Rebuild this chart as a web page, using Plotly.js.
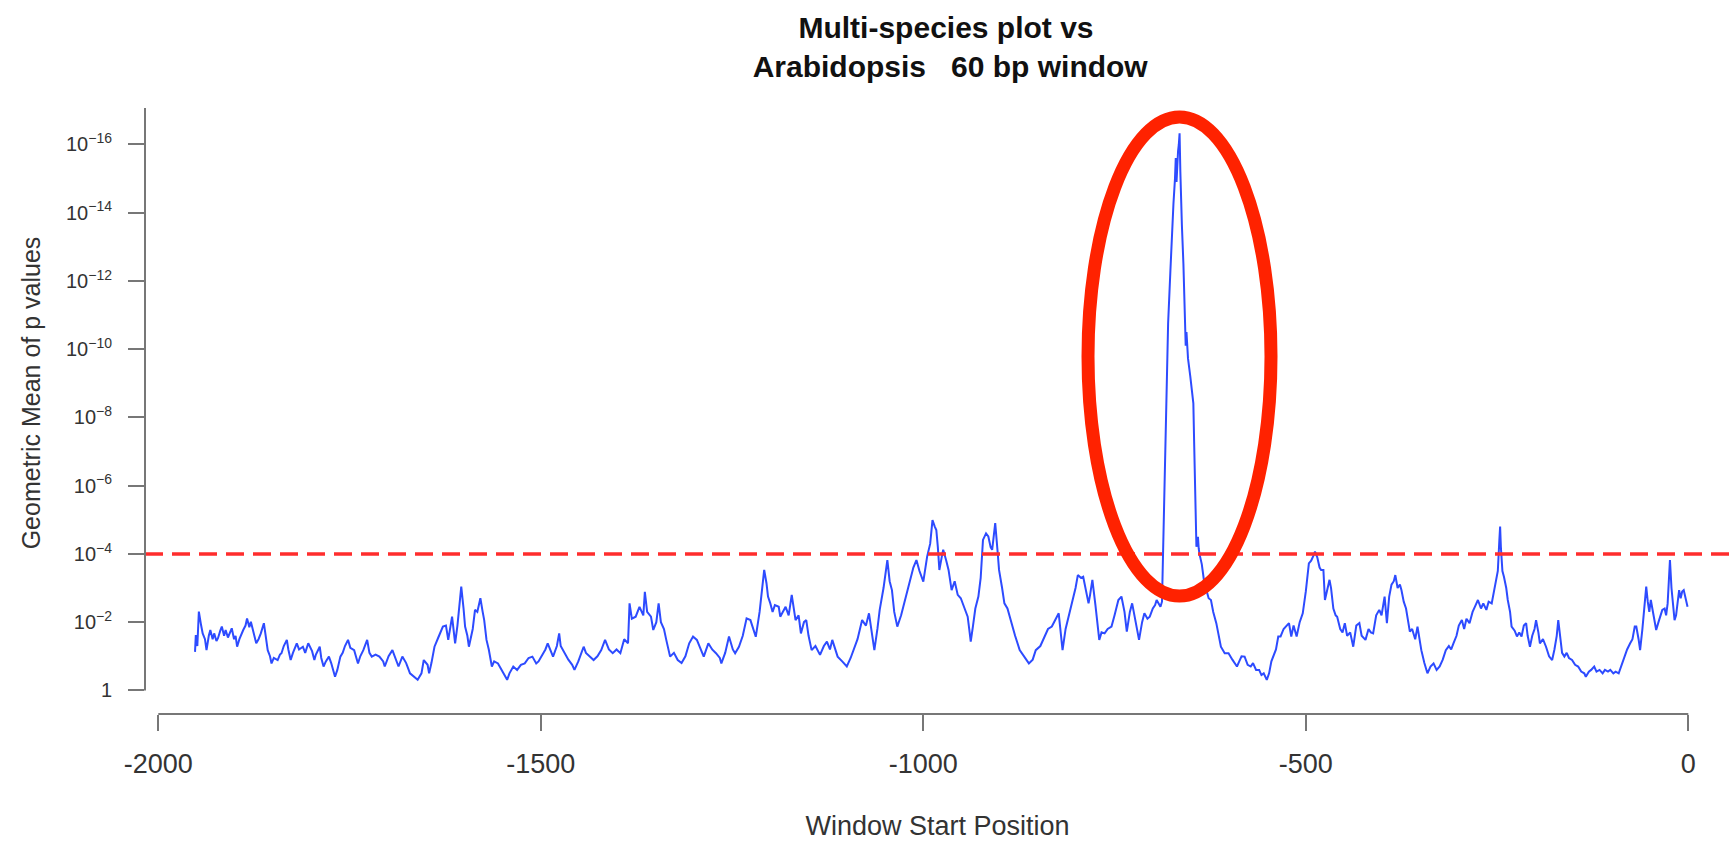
<!DOCTYPE html>
<html>
<head>
<meta charset="utf-8">
<script src="https://cdn.plot.ly/plotly-3.0.1.min.js"></script>
<style>
  html, body { margin: 0; padding: 0; background: #ffffff; }
  #chart { width: 1730px; height: 841px; }
</style>
</head>
<body>
<div id="chart"></div>
<script>
// ---------------- data ----------------
// Window start positions (bp) and -log10(geometric mean p value)
const windowStart = [
-1952,-1951,-1949,-1947,-1944,-1942,-1939,-1937,-1934,-1932,-1929,-1927,-1924,-1922,-1919,-1917,-1914,-1912,-1909,-1904,
-1901,-1899,-1897,-1894,-1889,-1886,-1884,-1881,-1879,-1876,-1874,-1872,-1869,-1866,-1862,-1859,-1857,-1854,-1852,-1849,
-1844,-1841,-1839,-1836,-1832,-1830,-1827,-1824,-1819,-1816,-1811,-1808,-1804,-1799,-1796,-1794,-1789,-1787,-1784,-1781,
-1777,-1774,-1769,-1766,-1762,-1759,-1756,-1752,-1749,-1744,-1739,-1736,-1732,-1727,-1724,-1721,-1716,-1711,-1706,-1704,
-1699,-1694,-1689,-1686,-1681,-1676,-1671,-1666,-1661,-1656,-1653,-1648,-1646,-1643,-1639,-1634,-1628,-1624,-1621,-1616,
-1612,-1609,-1604,-1601,-1599,-1596,-1594,-1589,-1586,-1583,-1579,-1576,-1574,-1571,-1568,-1564,-1561,-1556,-1551,-1548,
-1544,-1541,-1536,-1531,-1526,-1521,-1516,-1511,-1506,-1503,-1499,-1494,-1491,-1486,-1484,-1479,-1476,-1474,-1471,-1466,
-1464,-1459,-1456,-1451,-1449,-1444,-1441,-1436,-1431,-1426,-1421,-1416,-1411,-1406,-1401,-1396,-1391,-1386,-1384,-1381,
-1376,-1371,-1366,-1364,-1361,-1356,-1353,-1349,-1346,-1343,-1339,-1336,-1331,-1326,-1321,-1316,-1311,-1306,-1301,-1296,
-1291,-1287,-1281,-1276,-1271,-1266,-1264,-1259,-1254,-1249,-1246,-1241,-1236,-1231,-1226,-1223,-1219,-1214,-1211,-1208,
-1205,-1203,-1200,-1197,-1194,-1189,-1187,-1184,-1180,-1176,-1172,-1167,-1163,-1160,-1156,-1153,-1150,-1146,-1141,-1135,
-1130,-1126,-1122,-1119,-1115,-1112,-1106,-1100,-1095,-1091,-1086,-1080,-1075,-1071,-1067,-1064,-1060,-1057,-1052,-1047,
-1044,-1041,-1038,-1034,-1029,-1025,-1020,-1016,-1013,-1009,-1005,-1000,-997,-995,-991,-988,-985,-983,-981,-979,
-976,-974,-970,-967,-963,-959,-955,-951,-946,-942,-940,-938,-935,-932,-928,-925,-922,-918,-915,-912,
-910,-906,-903,-901,-897,-894,-890,-887,-883,-880,-874,-868,-862,-857,-853,-847,-841,-837,-832,-827,
-823,-818,-814,-809,-805,-801,-798,-794,-791,-787,-784,-782,-779,-775,-770,-767,-763,-759,-754,-750,
-745,-741,-737,-734,-730,-727,-722,-718,-714,-711,-707,-704,-700,-697,-695,-692,-690,-688,-686,-684,
-682,-680,-677,-675,-673,-671,-670,-669,-668,-667,-666,-665,-664,-663,-662,-660,-659,-658,-657,-656,
-655,-654,-651,-649,-647,-646,-645,-644,-643,-642,-641,-640,-639,-636,-633,-630,-627,-624,-621,-617,
-614,-611,-606,-601,-596,-590,-587,-584,-580,-576,-572,-569,-565,-561,-558,-555,-551,-548,-545,-543,
-539,-536,-533,-529,-525,-522,-519,-516,-512,-508,-504,-500,-496,-493,-490,-488,-485,-482,-480,-477,
-475,-472,-469,-467,-464,-461,-459,-455,-452,-449,-446,-442,-438,-434,-430,-427,-422,-418,-415,-412,
-408,-404,-401,-397,-394,-391,-388,-385,-383,-380,-377,-375,-372,-369,-367,-364,-361,-357,-354,-351,
-349,-345,-341,-337,-333,-329,-325,-321,-317,-313,-310,-307,-303,-300,-296,-293,-290,-286,-282,-278,
-275,-271,-268,-264,-261,-257,-254,-252,-249,-247,-246,-245,-243,-241,-238,-236,-233,-231,-227,-224,
-221,-218,-215,-212,-210,-207,-204,-201,-199,-196,-194,-190,-186,-182,-178,-175,-172,-170,-167,-165,
-162,-159,-156,-152,-148,-144,-140,-136,-134,-130,-127,-123,-120,-116,-112,-109,-105,-102,-98,-95,
-91,-88,-86,-83,-80,-76,-73,-70,-68,-65,-63,-60,-58,-56,-55,-53,-51,-49,-47,-45,
-42,-39,-36,-34,-31,-29,-27,-26,-24,-22,-20,-18,-16,-14,-12,-10,-8,-6,-4,-2,
-1
];
const negLog10P = [
1.13,1.62,1.30,2.31,1.90,1.67,1.50,1.18,1.60,1.77,1.50,1.67,1.45,1.53,1.75,1.87,1.60,1.77,1.55,1.82,
1.50,1.60,1.28,1.50,1.77,1.90,2.11,1.85,2.01,1.70,1.55,1.38,1.50,1.67,1.97,1.40,1.18,1.00,0.79,0.95,
0.89,1.05,1.09,1.30,1.48,1.20,0.89,1.10,1.38,1.20,1.28,1.10,1.38,1.15,0.89,1.05,1.28,0.95,0.70,0.85,
0.99,0.80,0.40,0.60,0.99,1.10,1.30,1.48,1.25,1.18,0.79,1.00,1.18,1.48,1.10,0.99,1.05,0.99,0.85,0.70,
1.00,1.18,0.90,0.70,0.99,0.80,0.50,0.40,0.31,0.50,0.89,0.75,0.50,0.80,1.28,1.55,1.87,1.90,1.48,2.16,
1.38,1.90,3.04,2.40,1.87,1.60,1.28,1.80,2.36,2.30,2.70,2.30,2.06,1.48,1.20,0.70,0.85,0.79,0.60,0.50,
0.31,0.50,0.70,0.60,0.75,0.79,0.95,0.99,0.79,0.85,1.00,1.20,1.38,1.10,0.99,1.30,1.67,1.30,1.18,1.00,
0.90,0.75,0.60,0.85,0.99,1.28,1.10,0.99,0.89,1.00,1.18,1.48,1.20,1.09,1.20,1.09,1.50,1.38,2.55,2.10,
2.16,2.45,2.20,2.89,2.30,2.16,1.77,2.00,2.55,2.00,1.80,1.48,0.99,1.10,0.89,0.80,1.00,1.38,1.58,1.48,
1.20,0.99,1.38,1.20,1.09,0.95,0.79,1.10,1.58,1.20,1.09,1.28,1.60,2.11,2.06,1.85,1.57,2.30,3.00,3.53,
3.14,2.75,2.55,2.30,2.50,2.45,2.16,2.30,2.45,2.20,2.80,2.06,2.20,1.67,2.00,2.06,1.60,1.18,1.30,1.04,
1.30,1.43,1.20,1.48,1.20,0.99,0.85,0.70,0.95,1.18,1.50,2.06,1.90,2.26,1.60,1.18,1.80,2.36,3.00,3.82,
3.20,2.94,2.30,1.87,2.20,2.55,2.90,3.33,3.60,3.82,3.50,3.19,3.60,3.92,4.30,4.99,4.80,4.70,4.20,3.53,
3.90,4.12,3.80,3.53,2.94,3.20,2.80,2.70,2.40,2.16,1.80,1.43,1.90,2.40,2.75,3.30,4.41,4.60,4.51,4.20,
4.12,4.90,4.10,3.53,3.00,2.55,2.40,2.16,1.80,1.60,1.18,1.00,0.79,0.90,1.18,1.30,1.58,1.80,1.87,2.10,
2.26,1.18,1.80,2.26,2.60,3.00,3.38,3.30,3.33,2.90,2.55,2.80,3.24,2.50,1.48,1.70,1.67,1.80,1.87,2.20,
2.65,2.75,2.30,1.72,2.30,2.55,2.00,1.48,2.00,2.26,2.10,2.16,2.40,2.50,2.65,2.50,2.45,2.60,4.50,6.55,
8.60,10.75,12.30,13.50,14.27,15.00,15.60,14.90,15.70,15.80,16.00,16.33,15.20,14.30,13.64,12.50,11.50,10.66,10.10,10.50,
10.07,9.73,9.20,8.70,8.41,7.30,6.00,5.00,4.21,4.35,4.50,4.16,4.00,3.70,3.20,2.94,2.70,2.65,2.30,1.97,
1.60,1.28,1.09,1.09,0.90,0.70,0.85,1.00,0.99,0.75,0.70,0.80,0.60,0.60,0.45,0.50,0.31,0.50,0.85,0.99,
1.20,1.58,1.58,1.80,1.90,1.97,1.58,1.90,1.58,2.00,2.26,2.90,3.72,3.80,3.95,4.07,3.90,3.60,3.53,3.53,
2.65,3.00,3.24,3.00,2.40,2.20,2.16,1.80,1.70,1.97,1.60,1.70,1.28,1.90,1.97,1.60,1.48,1.80,1.70,1.67,
2.20,2.36,2.20,2.75,1.97,2.75,3.10,3.20,3.38,3.00,3.10,2.94,2.60,2.40,2.10,1.72,1.80,1.50,1.87,1.40,
1.18,0.80,0.50,0.70,0.79,0.60,0.70,0.90,1.18,1.30,1.20,1.38,1.60,1.90,2.06,1.80,2.10,1.97,2.30,2.50,
2.65,2.40,2.55,2.36,2.60,2.55,2.90,3.14,3.50,4.40,4.80,4.20,3.50,3.33,3.00,2.65,2.30,1.87,1.75,1.58,
1.70,1.58,1.90,1.97,1.60,1.28,1.60,1.80,2.06,1.70,1.38,1.50,1.28,1.00,0.89,1.20,1.60,2.06,1.40,1.10,
0.99,1.10,0.95,0.89,0.75,0.70,0.55,0.50,0.40,0.55,0.60,0.70,0.55,0.60,0.50,0.60,0.55,0.60,0.50,0.55,
0.50,0.70,0.79,1.00,1.20,1.38,1.50,1.87,1.87,1.50,1.18,1.80,2.30,2.90,3.04,2.60,2.30,2.65,2.40,2.10,
1.77,2.00,2.20,2.36,2.40,2.20,2.55,3.00,3.82,3.00,2.50,2.06,2.20,2.50,2.94,2.70,2.90,2.94,2.70,2.50,
2.45
];
const pValues = negLog10P.map(v => Math.pow(10, -v));

const thresholdP = 1e-4;

const xTickValues = [-2000, -1500, -1000, -500, 0];
const xTickLabels = ['-2000', '-1500', '-1000', '-500', '0'];
const yTickValues = [1, 1e-2, 1e-4, 1e-6, 1e-8, 1e-10, 1e-12, 1e-14, 1e-16];
const yTickLabels = ['1', '10<sup>\u22122</sup>', '10<sup>\u22124</sup>', '10<sup>\u22126</sup>', '10<sup>\u22128</sup>',
                     '10<sup>\u221210</sup>', '10<sup>\u221212</sup>', '10<sup>\u221214</sup>', '10<sup>\u221216</sup>'];

const titleText = 'Multi-species plot vs <br>Arabidopsis   60 bp window';
const xTitle = 'Window Start Position';
const yTitle = 'Geometric Mean of p values';

// ---------------- layout constants ----------------
const xRange = [-2017.4, 54.5];
const yLogRange = [0.692, -18.124];
const yAxisTopP = 8.5e-18;
const FONT = 'Liberation Sans, Arial, Helvetica, sans-serif';
const AXIS_GREY = '#777777';

function yPaper(p) {
  return (Math.log10(p) - yLogRange[0]) / (yLogRange[1] - yLogRange[0]);
}

const traces = [
  {
    type: 'scatter', mode: 'lines',
    x: windowStart, y: pValues,
    line: { color: 'rgb(45,75,255)', width: 2 },
    hoverinfo: 'skip', showlegend: false
  },
  {
    type: 'scatter', mode: 'lines',
    x: xRange, y: [thresholdP, thresholdP],
    line: { color: 'rgb(255,45,45)', width: 3.5, dash: '18px,9px' },
    hoverinfo: 'skip', showlegend: false
  }
];

const layout = {
  width: 1730, height: 841,
  paper_bgcolor: '#ffffff', plot_bgcolor: '#ffffff',
  margin: { l: 145, r: 0, t: 72, b: 127, pad: 0 },
  showlegend: false,
  font: { family: FONT, color: '#333333' },
  title: {
    text: titleText,
    font: { family: FONT, size: 30, color: '#111111', weight: 'bold' },
    xref: 'paper', x: 0.508, xanchor: 'center',
    yref: 'container', y: 0.955, yanchor: 'top'
  },
  xaxis: {
    range: xRange, autorange: false,
    tickmode: 'array', tickvals: xTickValues, ticktext: xTickLabels,
    ticks: 'outside', ticklen: 16, tickwidth: 2, tickcolor: AXIS_GREY,
    ticklabelstandoff: 10,
    tickfont: { family: FONT, size: 27, color: '#333333' },
    showline: false, showgrid: false, zeroline: false,
    title: { text: xTitle, font: { family: FONT, size: 27, color: '#333333' }, standoff: 43 }
  },
  yaxis: {
    type: 'log', range: yLogRange, autorange: false,
    tickmode: 'array', tickvals: yTickValues, ticktext: yTickLabels,
    ticks: 'outside', ticklen: 16, tickwidth: 2, tickcolor: AXIS_GREY,
    ticklabelstandoff: 12,
    tickfont: { family: FONT, size: 20, color: '#333333' },
    showline: false, showgrid: false, zeroline: false,
    title: { text: yTitle, font: { family: FONT, size: 25, color: '#333333' }, standoff: 18 }
  },
  shapes: [
    // left axis line (from p = 1 up to the top of the axis)
    { type: 'line', xref: 'paper', yref: 'paper', x0: 0, x1: 0,
      y0: yPaper(1), y1: yPaper(yAxisTopP),
      line: { color: AXIS_GREY, width: 2 } },
    // bottom axis line (from -2000 to 0)
    { type: 'line', xref: 'x', yref: 'paper', x0: xTickValues[0], x1: xTickValues[xTickValues.length - 1],
      y0: 0, y1: 0, line: { color: AXIS_GREY, width: 2 } },
    // red highlight ellipse around the peak
    { type: 'circle', xref: 'x', yref: 'paper', x0: -784.7, x1: -545.5,
      y0: 0.1838, y1: 0.9299,
      line: { color: '#ff2200', width: 13 }, fillcolor: 'rgba(0,0,0,0)', layer: 'above' }
  ]
};

Plotly.newPlot('chart', traces, layout, { staticPlot: true, displayModeBar: false });
</script>
</body>
</html>
